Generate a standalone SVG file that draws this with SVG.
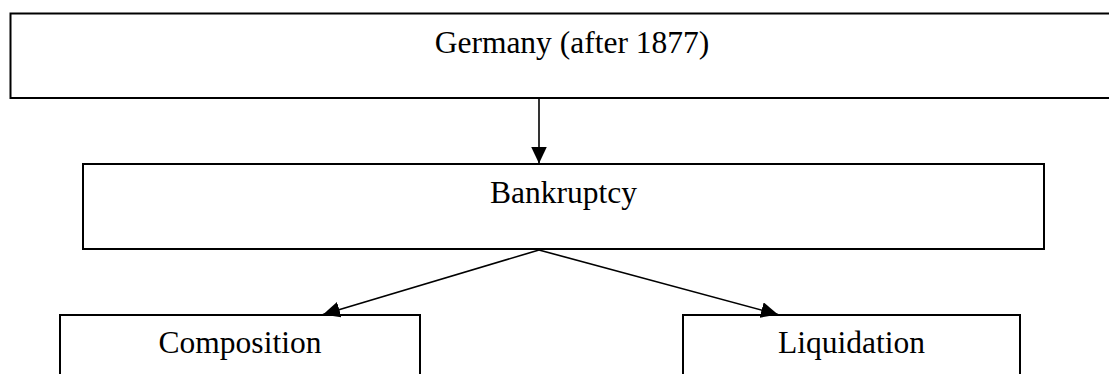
<svg xmlns="http://www.w3.org/2000/svg" width="1109" height="374" viewBox="0 0 1109 374">
<defs>
<style>
.box{fill:#fff;stroke:#000;stroke-width:2}
.lbl{font-family:"Liberation Serif","Times New Roman",serif;font-size:31.5px;fill:#000;text-anchor:middle}
.conn{stroke:#000;stroke-width:1.6;fill:none}
</style>
<marker id="arr" markerUnits="userSpaceOnUse" markerWidth="18" markerHeight="16" viewBox="0 0 18 16" refX="17" refY="8" orient="auto">
<path d="M0,0 L17,8 L0,16 Z" fill="#000"/>
</marker>
</defs>
<rect width="1109" height="374" fill="#fff"/>
<g id="germany">
<rect class="box" x="10.5" y="13.5" width="1130" height="84.5"/>
<text class="lbl" x="572" y="52.5">Germany (after 1877)</text>
</g>
<g id="bankruptcy">
<rect class="box" x="83" y="164" width="961" height="85"/>
<text class="lbl" x="563.5" y="203.3">Bankruptcy</text>
</g>
<g id="composition">
<rect class="box" x="60" y="315" width="360" height="80"/>
<text class="lbl" x="240" y="353">Composition</text>
</g>
<g id="liquidation">
<rect class="box" x="683" y="315" width="337" height="80"/>
<text class="lbl" x="851.5" y="353">Liquidation</text>
</g>
<g id="connectors">
<line class="conn" x1="539" y1="98" x2="539" y2="163.5" marker-end="url(#arr)"/>
<line class="conn" x1="539" y1="250" x2="323" y2="314.5" marker-end="url(#arr)"/>
<line class="conn" x1="539" y1="250" x2="778" y2="314.5" marker-end="url(#arr)"/>
</g>
</svg>
